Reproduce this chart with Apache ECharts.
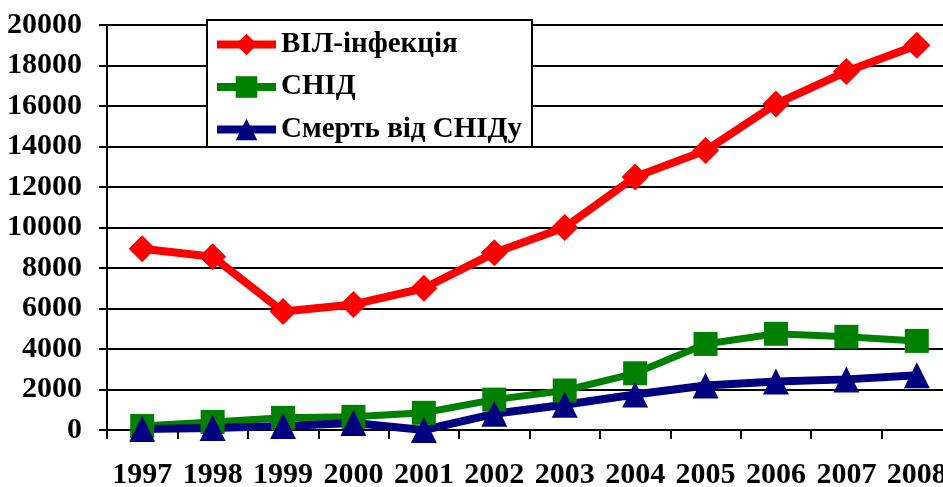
<!DOCTYPE html>
<html>
<head>
<meta charset="utf-8">
<script src="https://cdn.jsdelivr.net/npm/echarts@6/dist/echarts.min.js"></script>
<style>
html, body { margin: 0; padding: 0; background: #fff; }
#box1 { width: 943px; height: 487px; }
</style>
</head>
<body>
<div id="box1"></div>
<script>
var years = ['1997', '1998', '1999', '2000', '2001', '2002', '2003', '2004', '2005', '2006', '2007', '2008'];
var seriesNames = ['ВІЛ-інфекція', 'СНІД', 'Смерть від СНІДу'];
var hivValues = [8950, 8560, 5850, 6200, 7000, 8750, 10000, 12500, 13800, 16100, 17700, 19000];
var aidsValues = [200, 400, 600, 650, 850, 1500, 1950, 2800, 4250, 4750, 4600, 4400];
var deathValues = [50, 100, 200, 350, 0, 800, 1250, 1750, 2200, 2400, 2500, 2700];

var dom = document.getElementById('box1');
var myChart = echarts.init(dom);
var fontFam = '"Liberation Serif", "Times New Roman", serif';

function makeSeries(name, values, color, symbol, size, width) {
    return {
        name: name,
        type: 'line',
        data: values,
        symbol: symbol,
        symbolSize: size,
        showAllSymbol: true,
        animation: false,
        lineStyle: { color: color, width: width },
        itemStyle: { color: color }
    };
}

var option = {
    backgroundColor: '#fff',
    animation: false,
    textStyle: { fontFamily: fontFam },
    grid: {
        left: 107,
        right: -9,
        top: 25,
        bottom: 57,
        containLabel: false,
        outerBoundsMode: 'none'
    },
    legend: {
        orient: 'vertical',
        left: 207,
        top: 20,
        padding: [10, 10, 3, 6],
        itemWidth: 59,
        itemHeight: 27,
        itemGap: 13.5,
        backgroundColor: '#fff',
        borderColor: '#000',
        borderWidth: 2,
        borderRadius: 0,
        lineStyle: { width: 8 },
        data: seriesNames,
        textStyle: {
            fontFamily: fontFam,
            fontWeight: 'bold',
            fontSize: 29,
            color: '#000'
        }
    },
    xAxis: {
        type: 'category',
        data: years,
        boundaryGap: true,
        axisLine: { lineStyle: { color: '#000', width: 2 } },
        axisTick: { show: true, length: 9, lineStyle: { color: '#000', width: 2 } },
        axisLabel: {
            interval: 0,
            margin: 30,
            color: '#000',
            fontWeight: 'bold',
            fontSize: 30,
            fontFamily: fontFam,
            hideOverlap: false
        },
        splitLine: { show: false }
    },
    yAxis: {
        type: 'value',
        min: 0,
        max: 20000,
        interval: 2000,
        axisLine: { show: true, lineStyle: { color: '#000', width: 2 } },
        axisTick: { show: true, length: 8, lineStyle: { color: '#000', width: 2 } },
        axisLabel: {
            margin: 25,
            color: '#000',
            fontWeight: 'bold',
            fontSize: 30,
            fontFamily: fontFam,
            formatter: function (v) { return String(v); }
        },
        splitLine: { show: true, lineStyle: { color: '#000', width: 2 } }
    },
    series: [
        makeSeries(seriesNames[0], hivValues, '#ff0000', 'diamond', 27, 8),
        makeSeries(seriesNames[1], aidsValues, '#008000', 'rect', 24, 7),
        makeSeries(seriesNames[2], deathValues, '#000080', 'triangle', 26, 8)
    ]
};

myChart.setOption(option, true);
</script>
</body>
</html>
